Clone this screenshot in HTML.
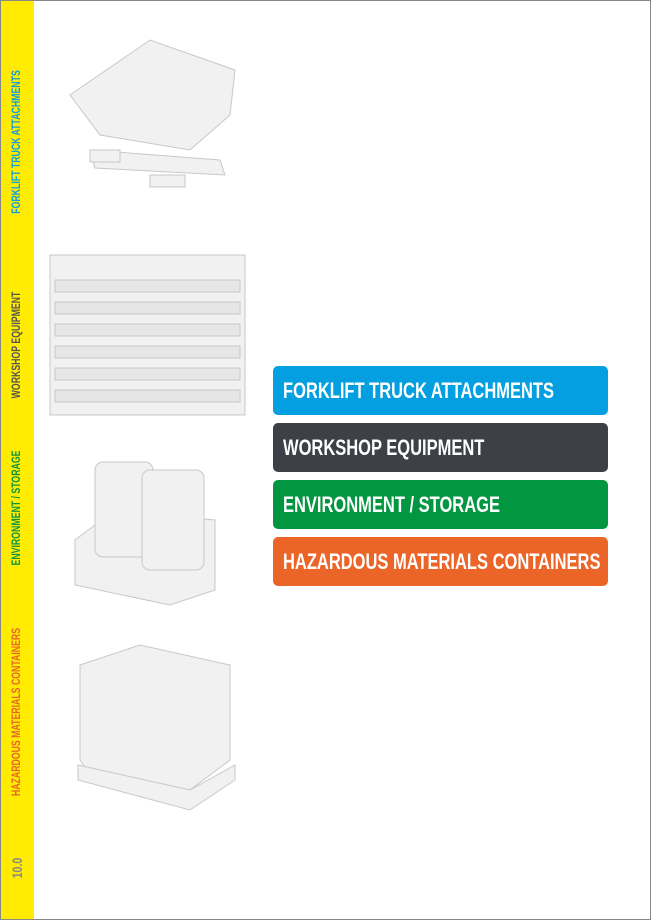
<!DOCTYPE html>
<html><head><style>
body{margin:0;width:651px;height:920px;position:relative;background:#fff;overflow:hidden;font-family:"Liberation Sans",sans-serif}
.frame{position:absolute;left:0;top:0;width:649px;height:918px;border:1px solid #888}
.side{position:absolute;left:1px;top:1px;width:33px;height:918px;background:#ffec00}
.v{position:absolute;left:17px;transform:translate(-50%,-50%) rotate(-90deg) scaleX(0.76);white-space:nowrap;font-weight:bold;font-size:11.5px}
.b{position:absolute;left:273px;width:335px;height:49px;border-radius:5px;color:#fff;font-weight:bold;font-size:22px;line-height:49px;padding-left:10px;box-sizing:border-box;white-space:nowrap;overflow:hidden}
.b span{display:inline-block;transform:scaleX(0.75);transform-origin:left}
</style></head><body>
<div class="frame"></div>
<div class="side"></div>
<div class="v" style="top:142px;color:#0aa0dc">FORKLIFT TRUCK ATTACHMENTS</div>
<div class="v" style="top:345px;color:#555">WORKSHOP EQUIPMENT</div>
<div class="v" style="top:508px;color:#0a9640">ENVIRONMENT / STORAGE</div>
<div class="v" style="top:712px;color:#e8652a">HAZARDOUS MATERIALS CONTAINERS</div>
<div class="v" style="top:868px;color:#888;font-size:14px">10.0</div>

<svg style="position:absolute;left:0;top:0" width="651" height="920">
<g fill="#f1f1f1" stroke="#c8c8c8" stroke-width="1">
<polygon points="70,95 150,40 235,70 230,115 190,150 100,135"/>
<polygon points="90,150 220,160 225,175 95,168"/>
<rect x="150" y="175" width="35" height="12"/>
<rect x="90" y="150" width="30" height="12"/>
<rect x="50" y="255" width="195" height="160"/>
<g fill="#e6e6e6">
<rect x="55" y="280" width="185" height="12"/><rect x="55" y="302" width="185" height="12"/>
<rect x="55" y="324" width="185" height="12"/><rect x="55" y="346" width="185" height="12"/>
<rect x="55" y="368" width="185" height="12"/><rect x="55" y="390" width="185" height="12"/>
</g>
<polygon points="75,540 115,510 215,520 215,590 170,605 75,585"/>
<rect x="95" y="462" width="58" height="95" rx="8"/>
<rect x="142" y="470" width="62" height="100" rx="8"/>
<polygon points="80,665 140,645 230,665 230,760 190,790 90,775 80,760"/>
<polygon points="78,765 190,790 235,765 235,780 190,810 78,780"/>
</g>
</svg>

<div class="b" style="top:366px;background:#049fe0"><span>FORKLIFT TRUCK ATTACHMENTS</span></div>
<div class="b" style="top:423px;background:#3d4047"><span>WORKSHOP EQUIPMENT</span></div>
<div class="b" style="top:480px;background:#029640"><span>ENVIRONMENT / STORAGE</span></div>
<div class="b" style="top:537px;background:#eb6528"><span>HAZARDOUS MATERIALS CONTAINERS</span></div>
</body></html>
